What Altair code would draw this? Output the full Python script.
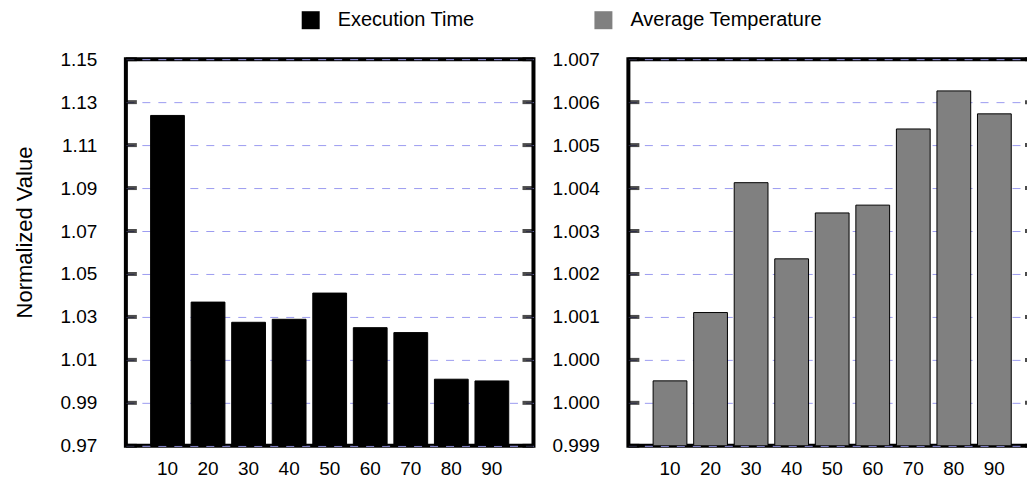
import altair as alt
import pandas as pd

# Thread counts on the x axis
threads = ["10", "20", "30", "40", "50", "60", "70", "80", "90"]

# Normalized execution time per thread count
exec_time = [1.1238, 1.0369, 1.0275, 1.0289, 1.0411, 1.0250, 1.0227, 1.0010, 1.0002]

# Normalized average temperature per thread count
avg_temp = [0.99999, 1.00139, 1.00405, 1.00249, 1.00343, 1.00359, 1.00515, 1.00593, 1.00546]

# Axis tick positions
exec_ticks = [0.97, 0.99, 1.01, 1.03, 1.05, 1.07, 1.09, 1.11, 1.13, 1.15]
temp_ticks = [0.99866, 0.99954, 1.00042, 1.0013, 1.00218, 1.00306, 1.00394, 1.00482, 1.0057, 1.00658]

series_names = ["Execution Time", "Average Temperature"]
series_colors = ["#000000", "#808080"]

FONT = "Liberation Sans"
W, H = 408, 387
TICK_LEN = 11

exec_df = pd.DataFrame({"threads": threads, "value": exec_time, "series": series_names[0]})
temp_df = pd.DataFrame({"threads": threads, "value": avg_temp, "series": series_names[1]})


def panel(df, ticks, fmt, title):
    y_scale = alt.Scale(domain=[ticks[0], ticks[-1]], nice=False, zero=False)
    x_enc = alt.X(
        "threads:N",
        sort=threads,
        scale=alt.Scale(paddingInner=0.167, paddingOuter=0.61),
        axis=alt.Axis(title=None, labelAngle=0, ticks=False, domain=False,
                      labelPadding=14, labelFontSize=19, labelColor="black"),
    )
    label_axis = dict(
        orient="left", values=ticks, format=fmt, grid=True, gridDash=[8, 8],
        gridColor="#9c9cf0", gridWidth=1, ticks=False, domain=False,
        labelPadding=29, labelFontSize=19, labelColor="black",
    )
    if title:
        label_axis.update(title=title, titleFontSize=22, titleFontWeight="normal",
                          titleColor="black", titleAngle=270, titleAlign="center",
                          titleBaseline="middle", titleX=-101, titleY=173)
    else:
        label_axis.update(title=None)

    bars = alt.Chart(df).mark_bar(stroke="black", strokeWidth=1, clip=True).encode(
        x=x_enc,
        y=alt.Y("value:Q", scale=y_scale, axis=alt.Axis(**label_axis)),
        y2=alt.datum(ticks[0]),
        color=alt.Color(
            "series:N",
            scale=alt.Scale(domain=series_names, range=series_colors),
            legend=alt.Legend(
                title=None, orient="none", direction="horizontal",
                legendX=175, legendY=-49, symbolType="square", symbolSize=324,
                symbolStrokeWidth=0, labelFontSize=20, labelOffset=17,
                columnPadding=118, labelColor="black", labelLimit=0,
            ),
        ),
    ).properties(width=W, height=H)

    # inward tick marks on both sides of the frame
    tick_df = pd.DataFrame({"value": ticks})
    tick_base = alt.Chart(tick_df).mark_tick(
        color="black", size=TICK_LEN, thickness=4, orient="horizontal"
    )
    ticks_left = tick_base.encode(
        y=alt.Y("value:Q", scale=y_scale, axis=alt.Axis(**label_axis)),
        x=alt.value(TICK_LEN / 2),
    ).properties(width=W, height=H)
    ticks_right = tick_base.encode(
        y=alt.Y("value:Q", scale=y_scale, axis=alt.Axis(**label_axis)),
        x=alt.value(W - TICK_LEN / 2),
    ).properties(width=W, height=H)
    return alt.layer(bars, ticks_left, ticks_right)


left = panel(exec_df, exec_ticks, ".2f", "Normalized Value")
right = panel(temp_df, temp_ticks, ".3f", None)

chart = alt.hconcat(left, right, spacing=14).properties(
    padding={"left": 12, "top": 10, "right": -11, "bottom": 0},
    background="white",
).configure(font=FONT).configure_view(stroke="black", strokeWidth=4)

chart.save("out.html", embed_options={"renderer": "svg", "actions": False})
